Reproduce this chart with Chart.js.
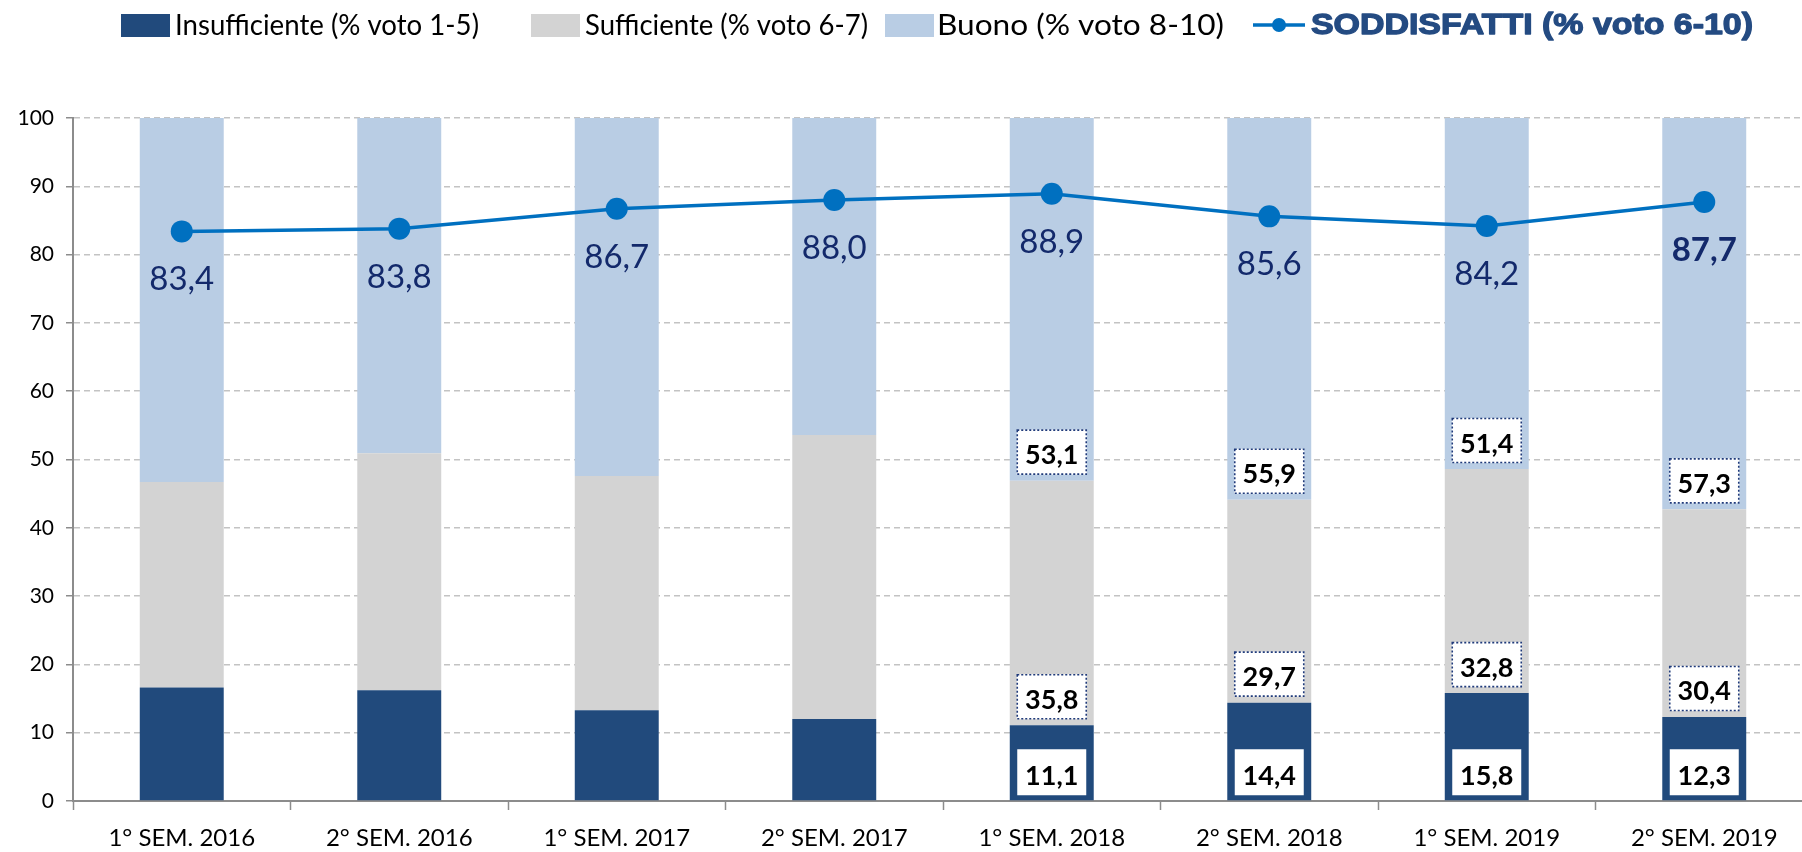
<!DOCTYPE html>
<html><head><meta charset="utf-8">
<script src="https://cdn.jsdelivr.net/npm/chart.js@4.4.1/dist/chart.umd.min.js"></script>
<style>
html,body{margin:0;padding:0;overflow:hidden;background:#fff;width:1802px;height:852px}
#wrap{position:absolute;left:0;top:0;width:1830px;height:852px}
</style></head><body>
<div id="wrap"><canvas id="c"></canvas></div>
<script>
// ---- data ----
const categories = ['1° SEM. 2016','2° SEM. 2016','1° SEM. 2017','2° SEM. 2017','1° SEM. 2018','2° SEM. 2018','1° SEM. 2019','2° SEM. 2019'];
const insufficiente = [16.6, 16.2, 13.3, 12.0, 11.1, 14.4, 15.8, 12.3];
const sufficiente   = [30.1, 34.7, 34.3, 41.6, 35.8, 29.7, 32.8, 30.4];
const buono         = [53.3, 49.1, 52.4, 46.4, 53.1, 55.9, 51.4, 57.3];
const soddisfatti   = [83.4, 83.8, 86.7, 88.0, 88.9, 85.6, 84.2, 87.7];
const yTicks = [0,10,20,30,40,50,60,70,80,90,100];
const showSegmentLabels = [false,false,false,false,true,true,true,true];
const seriesNames = ['Insufficiente (% voto 1-5)','Sufficiente (% voto 6-7)','Buono (% voto 8-10)','SODDISFATTI (% voto 6-10)'];

// ---- styles ----
const C_DARK = '#214a7c', C_GRAY = '#d3d3d3', C_LIGHT = '#b9cde4', C_LINE = '#0070c0', C_NAVY = '#13296b';
const fmt = v => v.toFixed(1).replace('.', ',');

const segmentLabels = {
  id: 'segmentLabels',
  afterDatasetsDraw(chart) {
    const ctx = chart.ctx;
    ctx.save();
    for (let d = 0; d < 3; d++) {
      const meta = chart.getDatasetMeta(d);
      const vals = chart.data.datasets[d].data;
      meta.data.forEach((bar, i) => {
        if (!showSegmentLabels[i]) return;
        const bottom = Math.max(bar.y, bar.base);
        const w = d === 0 ? 69 : 70, h = d === 0 ? 46 : 45;
        const by = bottom - (d === 0 ? 5 : 6) - h;
        const bx = bar.x - w / 2;
        ctx.fillStyle = '#fff';
        ctx.fillRect(bx, by, w, h);
        if (d > 0) {
          ctx.setLineDash([2, 2]);
          ctx.strokeStyle = '#1f3a7a';
          ctx.lineWidth = 1.6;
          ctx.strokeRect(bx + 0.5, by + 0.5, w - 1, h - 1);
          ctx.setLineDash([]);
        }
        ctx.fillStyle = '#000';
        ctx.font = 'bold 27px Lato';
        ctx.textAlign = 'center';
        ctx.textBaseline = 'alphabetic';
        ctx.fillText(fmt(vals[i]), bar.x, by + h - 10.5);
      });
    }
    // line value labels
    const lm = chart.getDatasetMeta(3);
    const ys = chart.scales.y;
    lm.data.forEach((pt, i) => {
      const last = i === lm.data.length - 1;
      const py = ys.getPixelForValue(soddisfatti[i]);
      ctx.font = (last ? 'bold ' : '') + '33px Lato';
      ctx.fillStyle = C_NAVY;
      ctx.textAlign = 'center';
      ctx.textBaseline = 'alphabetic';
      ctx.fillText(fmt(soddisfatti[i]), pt.x, py + 59);
    });
    ctx.restore();
  }
};

const topLegend = {
  id: 'topLegend',
  afterDraw(chart) {
    const ctx = chart.ctx;
    const cy = 25;
    const items = [
      {x: 121, tx: 175, tw: 304, color: C_DARK},
      {x: 531, tx: 585, tw: 283, color: C_GRAY},
      {x: 885, tx: 937, tw: 287, color: C_LIGHT},
      {x: 1253, tx: 1311, tw: 442, line: true}
    ];
    ctx.save();
    items.forEach((it, k) => {
      if (it.line) {
        ctx.strokeStyle = C_LINE; ctx.lineWidth = 3.5;
        ctx.beginPath(); ctx.moveTo(it.x, cy); ctx.lineTo(it.x + 52, cy); ctx.stroke();
        ctx.fillStyle = C_LINE;
        ctx.beginPath(); ctx.arc(it.x + 26, cy, 7, 0, Math.PI * 2); ctx.fill();
        ctx.font = 'bold 30px "Liberation Sans"';
        ctx.fillStyle = '#244b82';
      } else {
        ctx.fillStyle = it.color;
        ctx.fillRect(it.x, 14, 49, 23);
        ctx.font = '29px Lato';
        ctx.fillStyle = '#000';
      }
      const t = seriesNames[k];
      const mw = ctx.measureText(t).width;
      ctx.save();
      ctx.translate(it.tx, cy + 1);
      ctx.scale(it.tw / mw, 1);
      ctx.textAlign = 'left';
      ctx.textBaseline = 'middle';
      ctx.fillText(t, 0, 0);
      if (it.line) {
        ctx.strokeStyle = '#244b82';
        ctx.lineWidth = 1.3;
        ctx.lineJoin = 'round';
        ctx.strokeText(t, 0, 0);
      }
      ctx.restore();
    });
    ctx.restore();
  }
};

new Chart(document.getElementById('c'), {
  type: 'bar',
  data: {
    labels: categories,
    datasets: [
      {label: seriesNames[0], data: insufficiente, backgroundColor: C_DARK, stack: 'bars', order: 1, barPercentage: 0.386, categoryPercentage: 1},
      {label: seriesNames[1], data: sufficiente, backgroundColor: C_GRAY, stack: 'bars', order: 1, barPercentage: 0.386, categoryPercentage: 1},
      {label: seriesNames[2], data: buono, backgroundColor: C_LIGHT, stack: 'bars', order: 1, barPercentage: 0.386, categoryPercentage: 1},
      {label: seriesNames[3], data: soddisfatti, type: 'line', stack: 'line', order: 0,
       borderColor: C_LINE, backgroundColor: C_LINE, borderWidth: 3.5, pointRadius: 11,
       pointBackgroundColor: C_LINE, pointBorderWidth: 0, tension: 0, fill: false}
    ]
  },
  options: {
    responsive: true, maintainAspectRatio: false, animation: false, devicePixelRatio: 1,
    layout: {padding: {top: 118, right: 17, left: 0, bottom: 0}},
    plugins: {legend: {display: false}, tooltip: {enabled: false}},
    scales: {
      x: {
        stacked: true,
        grid: {display: true, drawOnChartArea: false, drawTicks: true, tickLength: 9, tickColor: '#8c8c8c', tickWidth: 1.5, offset: true},
        border: {display: true, color: '#8c8c8c', width: 2},
        ticks: {font: {family: 'Lato', size: 24}, color: '#000', padding: 14, maxRotation: 0, autoSkip: false},
        afterFit: s => { s.height = 51; }
      },
      y: {
        stacked: true, min: 0, max: 100,
        afterBuildTicks: s => { s.ticks = yTicks.map(v => ({value: v})); },
        ticks: {font: {family: 'Lato', size: 21}, color: '#000', padding: 12},
        grid: {color: '#c3c3c3', lineWidth: 1.5, drawTicks: true, tickLength: 7, tickColor: '#8c8c8c', tickWidth: 1.5},
        border: {display: true, color: '#8c8c8c', width: 2, dash: [6, 4]},
        afterFit: s => { s.width = 73; }
      }
    }
  },
  plugins: [segmentLabels, topLegend]
});
</script>
</body></html>
